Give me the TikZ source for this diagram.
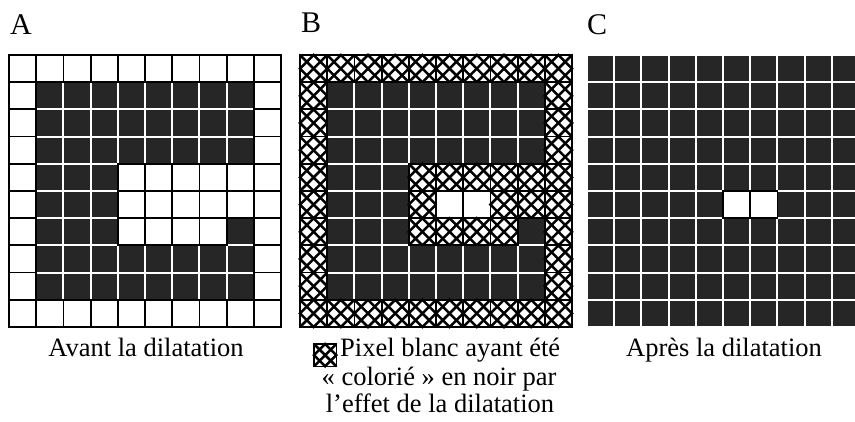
\documentclass[tikz,border=0pt]{standalone}
\usepackage{fontspec}
\setmainfont{Liberation Serif}
\tikzset{
	blackpix/.style={fill=black!85},
	gridline/.style={line width=1.8pt},
	hatchline/.style={line width=2.5pt},
	letterfont/.style={font=\fontsize{30}{32}\selectfont},
	captionfont/.style={font=\fontsize{26.5}{28}\selectfont}
}
\newcommand{\cellsize}{27.2}
\newcommand{\halfcell}{13.6}
\newcommand{\hatchcell}[3]{%
	\draw[#3, fill=white] (#1,#2) rectangle ++(\cellsize,\cellsize);
	\draw[hatchline] (#1,#2) -- ++(\cellsize,\cellsize);
	\draw[hatchline] (#1+\cellsize,#2) -- ++(-\cellsize,\cellsize);
	\draw[hatchline] (#1+\halfcell,#2) -- ++(\halfcell,\halfcell) -- ++(-\halfcell,\halfcell) -- ++(-\halfcell,-\halfcell) -- cycle;
	\draw[#3] (#1,#2) rectangle ++(\cellsize,\cellsize);
}
\newcommand{\pixgrid}[2]{%
	\foreach \row [count=\r from 0] in {#2} {
		\foreach \v [count=\c from 0] in \row {
			\pgfmathsetmacro{\xa}{#1+\c*\cellsize}
			\pgfmathsetmacro{\ya}{55+\r*\cellsize}
			\ifcase\v
				\draw[gridline, fill=white] (\xa,\ya) rectangle ++(\cellsize,\cellsize);
			\or
				\fill[blackpix] (\xa+1,\ya+1) rectangle ++(\cellsize-2,\cellsize-2);
			\or
				\hatchcell{\xa}{\ya}{gridline}
			\fi
		}
	}
}
\begin{document}
\begin{tikzpicture}[x=1pt, y=-1pt]
	\clip (0,0) rectangle (855,422);
	\fill[white] (0,0) rectangle (855,422);
	\pixgrid{9}{
		{0,0,0,0,0,0,0,0,0,0},
		{0,1,1,1,1,1,1,1,1,0},
		{0,1,1,1,1,1,1,1,1,0},
		{0,1,1,1,1,1,1,1,1,0},
		{0,1,1,1,0,0,0,0,0,0},
		{0,1,1,1,0,0,0,0,0,0},
		{0,1,1,1,0,0,0,0,1,0},
		{0,1,1,1,1,1,1,1,1,0},
		{0,1,1,1,1,1,1,1,1,0},
		{0,0,0,0,0,0,0,0,0,0}}
	\pixgrid{300}{
		{2,2,2,2,2,2,2,2,2,2},
		{2,1,1,1,1,1,1,1,1,2},
		{2,1,1,1,1,1,1,1,1,2},
		{2,1,1,1,1,1,1,1,1,2},
		{2,1,1,1,2,2,2,2,2,2},
		{2,1,1,1,2,0,0,2,2,2},
		{2,1,1,1,2,2,2,2,1,2},
		{2,1,1,1,1,1,1,1,1,2},
		{2,1,1,1,1,1,1,1,1,2},
		{2,2,2,2,2,2,2,2,2,2}}
	\pixgrid{587}{
		{1,1,1,1,1,1,1,1,1,1},
		{1,1,1,1,1,1,1,1,1,1},
		{1,1,1,1,1,1,1,1,1,1},
		{1,1,1,1,1,1,1,1,1,1},
		{1,1,1,1,1,1,1,1,1,1},
		{1,1,1,1,1,0,0,1,1,1},
		{1,1,1,1,1,1,1,1,1,1},
		{1,1,1,1,1,1,1,1,1,1},
		{1,1,1,1,1,1,1,1,1,1},
		{1,1,1,1,1,1,1,1,1,1}}
	\node[letterfont, anchor=base west, inner sep=0] (labA) at (10,35) {A};
	\node[letterfont, anchor=base west, inner sep=0] (labB) at (301,33) {B};
	\node[letterfont, anchor=base west, inner sep=0] (labC) at (587,35) {C};
	\node[captionfont, anchor=base, inner sep=0] (capA) at (146,357) {Avant la dilatation};
	\node[captionfont, anchor=base, inner sep=0] (capC) at (724,357) {Après la dilatation};
	\begin{scope}[shift={(314,344)}, scale=0.82]
		\hatchcell{0}{0}{line width=1.6pt}
	\end{scope}
	\node[captionfont, anchor=base west, inner sep=0] (capB) at (340,357) {Pixel blanc ayant été};
	\node[captionfont, anchor=base, inner sep=0] (capBb) at (439,385) {« colorié » en noir par};
	\node[captionfont, anchor=base, inner sep=0] (capBc) at (440,413) {l’effet de la dilatation};
\end{tikzpicture}
\end{document}
